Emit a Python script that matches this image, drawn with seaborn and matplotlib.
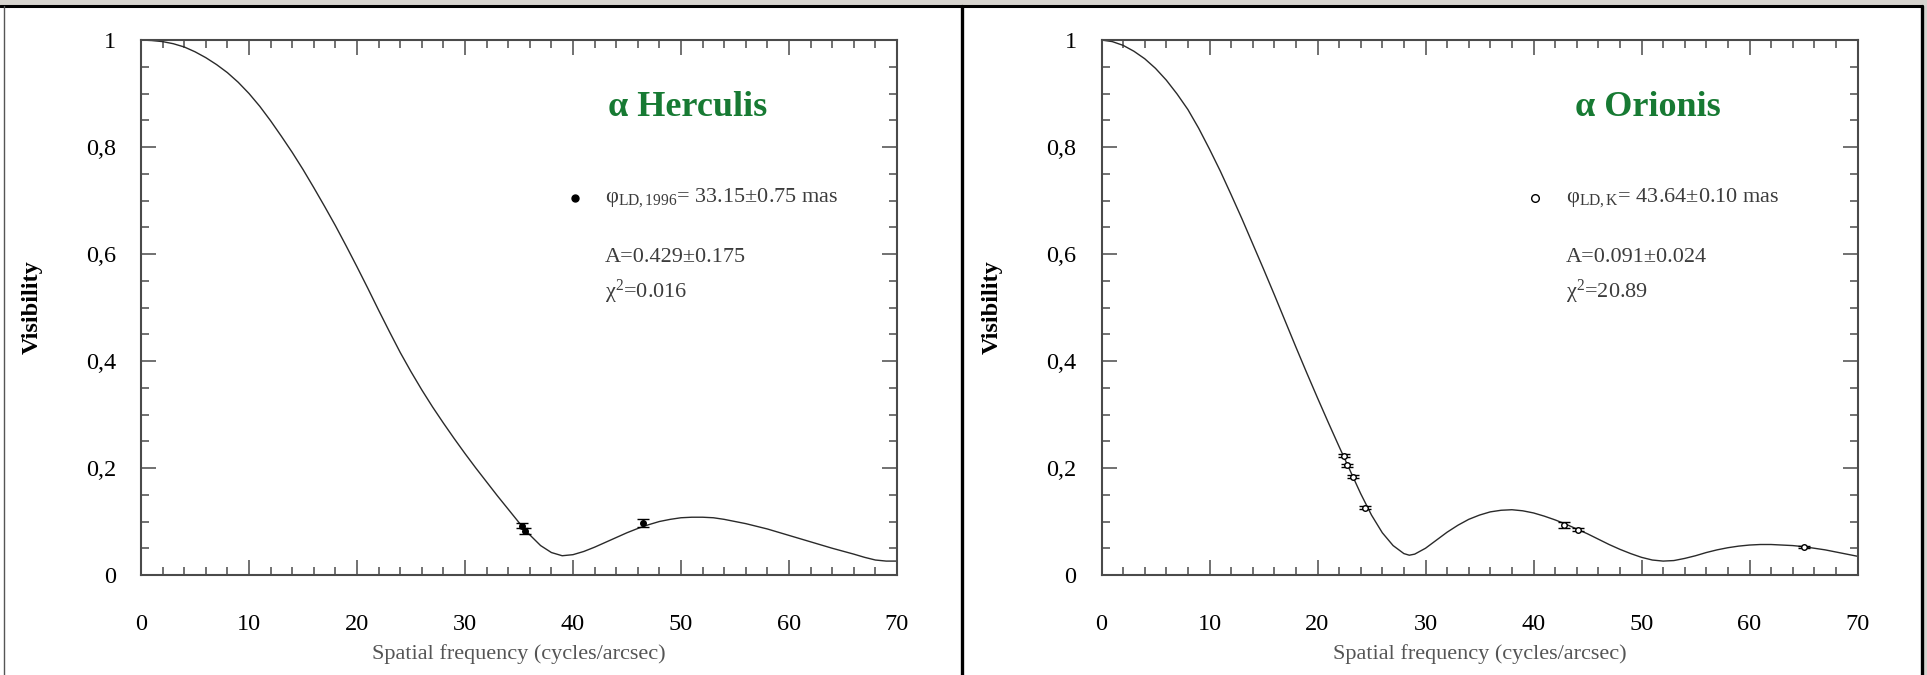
import numpy as np
import pandas as pd
import matplotlib
matplotlib.use("Agg")
import matplotlib.pyplot as plt
from matplotlib.ticker import MultipleLocator, FuncFormatter
from matplotlib.lines import Line2D
from matplotlib.patches import Rectangle
import seaborn as sns

# ---- model visibility curves (spatial frequency in cycles/arcsec) ----
her_freq = [0, 1, 2, 3, 4, 5, 6, 7, 8, 9, 10, 11, 12, 13, 14, 15, 16, 17, 18,
            19, 20, 21, 22, 23, 24, 25, 26, 27, 28, 29, 30, 31, 32, 33, 34, 35,
            36, 37, 38, 39, 40, 41, 42, 43, 44, 45, 46, 47, 48, 49, 50, 51, 52,
            53, 54, 55, 56, 57, 58, 59, 60, 62, 64, 66, 67, 68, 69, 70]
her_vis = [1.0, 0.999, 0.997, 0.993, 0.987, 0.978, 0.967, 0.954, 0.939, 0.921,
           0.9, 0.876, 0.849, 0.82, 0.79, 0.758, 0.724, 0.689, 0.653, 0.615,
           0.576, 0.536, 0.495, 0.455, 0.416, 0.38, 0.346, 0.314, 0.284, 0.255,
           0.227, 0.2, 0.174, 0.148, 0.123, 0.098, 0.075, 0.055, 0.042, 0.036,
           0.038, 0.044, 0.052, 0.061, 0.07, 0.079, 0.087, 0.094, 0.1, 0.104,
           0.107, 0.108, 0.108, 0.107, 0.104, 0.1, 0.096, 0.091, 0.086, 0.08,
           0.074, 0.062, 0.05, 0.039, 0.033, 0.028, 0.026, 0.026]

ori_freq = [0, 1, 2, 3, 4, 5, 6, 7, 8, 9, 10, 11, 12, 13, 14, 15, 16, 17, 18,
            19, 20, 21, 22, 23, 24, 25, 26, 27, 28, 28.5, 29, 30, 31, 32, 33, 34,
            35, 36, 37, 38, 39, 40, 41, 42, 43, 44, 45, 46, 47, 48, 49, 50, 51,
            52, 53, 54, 55, 56, 57, 58, 59, 60, 61, 62, 63, 64, 65, 66, 67, 68,
            69, 70]
ori_vis = [1.0, 0.997, 0.99, 0.979, 0.965, 0.947, 0.925, 0.899, 0.87, 0.835,
           0.796, 0.755, 0.711, 0.666, 0.619, 0.572, 0.524, 0.475, 0.426, 0.378,
           0.331, 0.285, 0.24, 0.196, 0.152, 0.112, 0.079, 0.055, 0.04, 0.037,
           0.039, 0.05, 0.065, 0.08, 0.093, 0.104, 0.112, 0.118, 0.121, 0.122,
           0.12, 0.116, 0.11, 0.103, 0.095, 0.086, 0.077, 0.067, 0.057, 0.048,
           0.04, 0.033, 0.028, 0.026, 0.027, 0.031, 0.036, 0.042, 0.047, 0.051,
           0.054, 0.056, 0.057, 0.057, 0.056, 0.055, 0.053, 0.05, 0.047, 0.043,
           0.039, 0.035]

# ---- measured visibilities ----
her_obs_freq = [35.25, 35.56, 46.5]
her_obs_vis = [0.092, 0.082, 0.097]
her_obs_err = [0.005, 0.005, 0.007]

ori_obs_freq = [22.44, 22.73, 23.3, 24.44, 42.85, 44.1, 65.05]
ori_obs_vis = [0.223, 0.205, 0.184, 0.126, 0.094, 0.085, 0.052]
ori_obs_err = [0.003, 0.003, 0.003, 0.003, 0.006, 0.003, 0.002]

# ---- annotation text ----
stars = ["α Herculis", "α Orionis"]
diam_labels = [r"$\mathregular{φ_{LD,1996}}$= 33.15±0.75 mas",
               r"$\mathregular{φ_{LD,K}}$= 43.64±0.10 mas"]
amp_labels = ["A=0.429±0.175", "A=0.091±0.024"]
chi_labels = [r"$\mathregular{χ^2}$=0.016", r"$\mathregular{χ^2}$=20.89"]
x_ticks = [0, 10, 20, 30, 40, 50, 60, 70]
y_ticks = [0, 0.2, 0.4, 0.6, 0.8, 1.0]

sns.set_theme(style="white")
plt.rcParams["font.family"] = ["Liberation Serif", "DejaVu Serif"]
plt.rcParams["mathtext.fontset"] = "stix"

SPINE = "#4a4a4a"
TXT = "#3c3c3c"
GREEN = "#177a33"

fig = plt.figure(figsize=(19.27, 6.75), dpi=100)
fig.patch.set_facecolor("white")

# panel frames and top strip
fig.patches.append(Rectangle((0, 1 - 5 / 675), 1, 5 / 675, transform=fig.transFigure,
                             facecolor="#d6d3ce", edgecolor="none", zorder=0))
fig.patches.append(Rectangle((1924 / 1927, 0), 3 / 1927, 1, transform=fig.transFigure,
                             facecolor="#d6d3ce", edgecolor="none", zorder=0))
fig.lines.append(Line2D([0, 1922 / 1927], [1 - 5.5 / 675] * 2, transform=fig.transFigure,
                        color="black", lw=2.2))
fig.lines.append(Line2D([3.5 / 1927] * 2, [0, 1 - 5.5 / 675], transform=fig.transFigure,
                        color="#555555", lw=1.0))
fig.lines.append(Line2D([962 / 1927] * 2, [0, 1 - 5.5 / 675], transform=fig.transFigure,
                        color="black", lw=2.4))
fig.lines.append(Line2D([1922 / 1927] * 2, [0, 1 - 5.5 / 675], transform=fig.transFigure,
                        color="black", lw=2.4))

ax_w = 756 / 1927
ax_h = 535 / 675
ax_b = 100 / 675
axes = [fig.add_axes([141 / 1927, ax_b, ax_w, ax_h]),
        fig.add_axes([1101.5 / 1927, ax_b, ax_w, ax_h])]

curves = [(her_freq, her_vis), (ori_freq, ori_vis)]
obs = [(her_obs_freq, her_obs_vis, her_obs_err), (ori_obs_freq, ori_obs_vis, ori_obs_err)]
marker_face = ["black", "white"]


def fmt_vis(val, pos):
    if abs(val) < 1e-9:
        return "0"
    if abs(val - 1) < 1e-9:
        return "1"
    return f"{val:.1f}".replace(".", ",")


for i, ax in enumerate(axes):
    f, v = curves[i]
    df = pd.DataFrame({"freq": f, "vis": v})
    sns.lineplot(data=df, x="freq", y="vis", ax=ax, color="#2a2a2a", lw=1.0,
                 estimator=None, sort=False)
    of, ov, oe = obs[i]
    ax.errorbar(of, ov, yerr=oe, fmt="o", ms=4, mfc=marker_face[i], mec="black",
                mew=1.0, ecolor="black", elinewidth=1.0, capsize=4, capthick=1.0,
                zorder=5)

    ax.set_xlim(0, 70)
    ax.set_ylim(0, 1)
    ax.set_xticks(x_ticks)
    ax.set_yticks(y_ticks)
    ax.xaxis.set_minor_locator(MultipleLocator(2))
    ax.yaxis.set_minor_locator(MultipleLocator(0.05))
    ax.yaxis.set_major_formatter(FuncFormatter(fmt_vis))
    ax.tick_params(which="both", direction="in", top=True, right=True,
                   bottom=True, left=True, color=SPINE, width=1.1)
    ax.tick_params(which="major", length=11, labelsize=17.5, labelcolor="black")
    ax.tick_params(axis="x", which="major", pad=28)
    ax.tick_params(axis="y", which="major", pad=18)
    ax.tick_params(which="minor", length=5.5)
    for s in ax.spines.values():
        s.set_visible(True)
        s.set_color(SPINE)
        s.set_linewidth(1.5)
    ax.set_facecolor("white")

    ax.set_xlabel("Spatial frequency (cycles/arcsec)", fontsize=16, color="#555555")
    ax.xaxis.set_label_coords(0.5, -0.13)
    ax.set_ylabel("Visibility", fontsize=17.5, fontweight="bold", color="black")
    ax.yaxis.label.set_va("center")
    ax.yaxis.set_label_coords(-0.144, 0.5)

    ax.text(0.723, 0.873, stars[i], transform=ax.transAxes, ha="center", va="center",
            fontsize=26, fontweight="bold", color=GREEN)
    ax.plot([0.574], [0.705], transform=ax.transAxes, marker="o", ms=5 if i == 0 else 5.5,
            mfc=marker_face[i], mec="black", mew=1.0, ls="none")
    ax.text(0.614, 0.705, diam_labels[i], transform=ax.transAxes, ha="left",
            va="center", fontsize=16, color=TXT)
    ax.text(0.614, 0.594, amp_labels[i], transform=ax.transAxes, ha="left",
            va="center", fontsize=16, color=TXT)
    ax.text(0.614, 0.529, chi_labels[i], transform=ax.transAxes, ha="left",
            va="center", fontsize=16, color=TXT)

fig.savefig("out.png", dpi=100)
